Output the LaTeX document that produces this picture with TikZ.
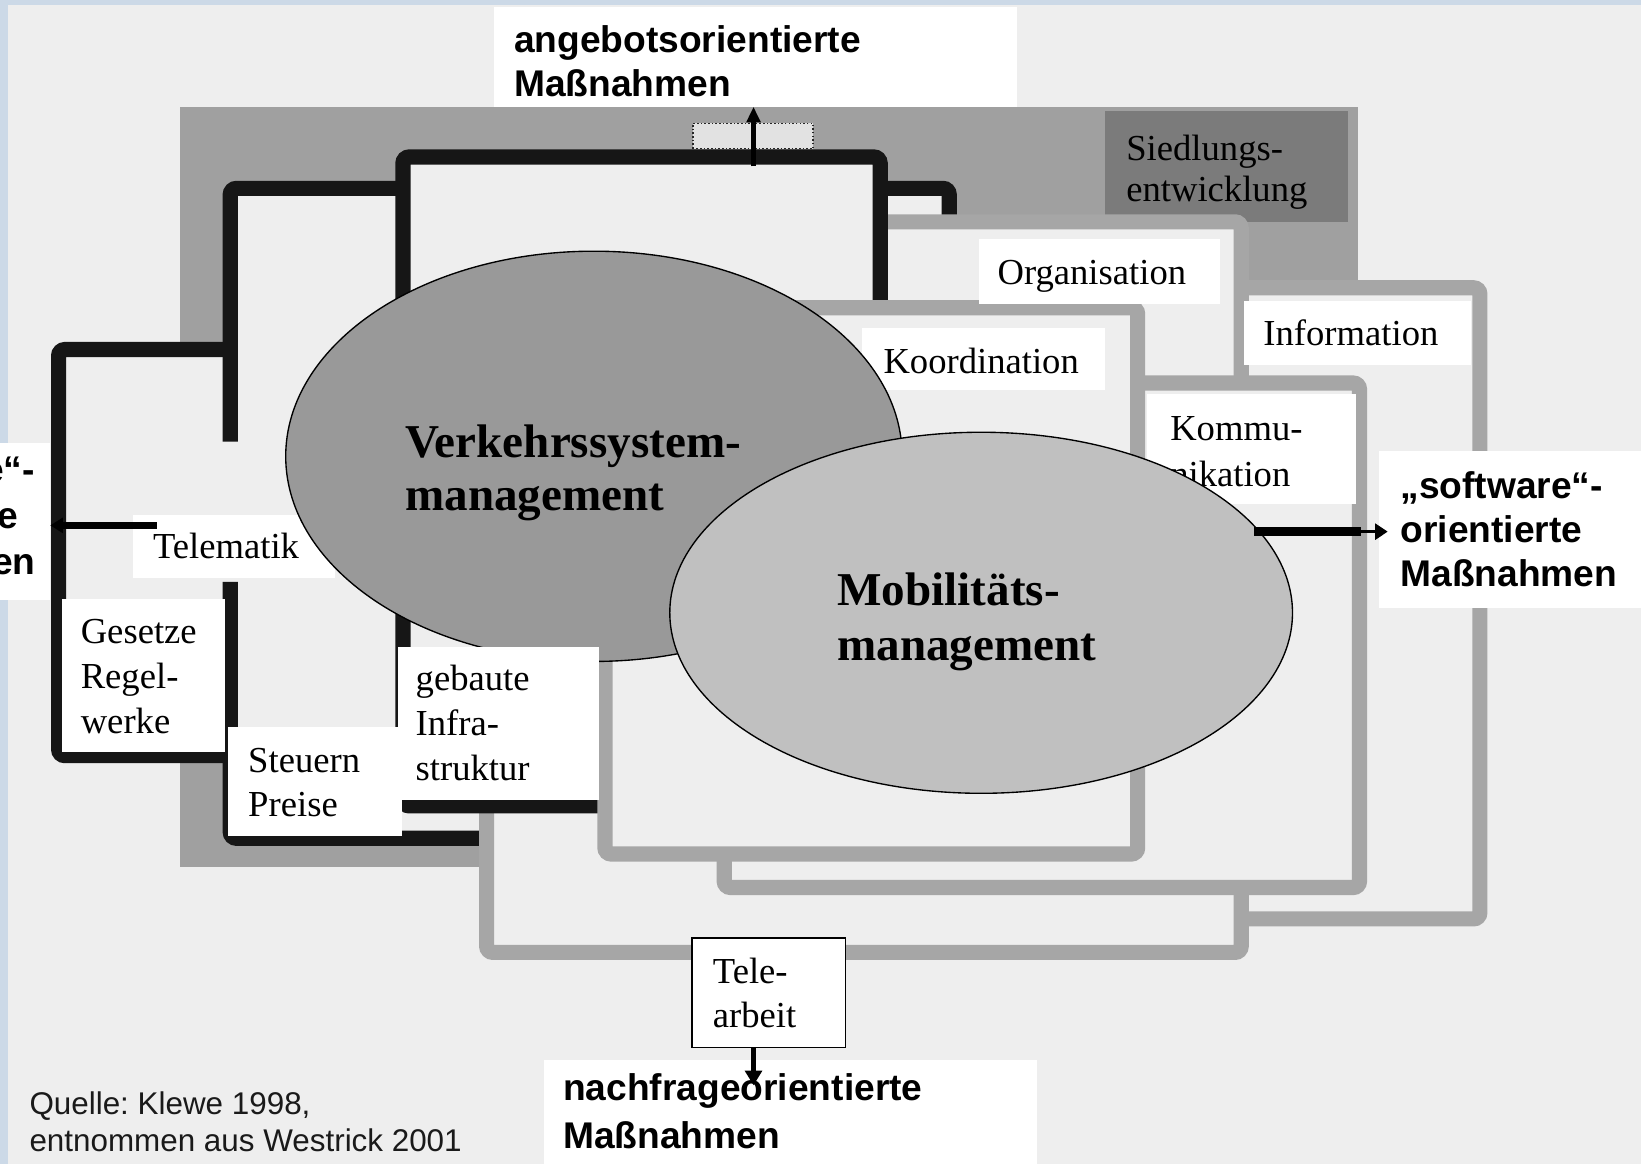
\documentclass[tikz,border=0pt]{standalone}
\usepackage{fontspec}
\setmainfont{Liberation Serif}
\newfontfamily\arialf{Liberation Sans}
\usetikzlibrary{arrows.meta}
\frenchspacing

\definecolor{paper}{HTML}{EEEEEE}
\definecolor{slideblue}{HTML}{CCD9E7}
\definecolor{settle}{HTML}{A0A0A0}
\definecolor{settlebox}{HTML}{7B7B7B}
\definecolor{softline}{HTML}{A6A6A6}
\definecolor{hardline}{HTML}{161616}
\definecolor{vsmfill}{HTML}{999999}
\definecolor{mmfill}{HTML}{C0C0C0}
\definecolor{srctext}{HTML}{1A1A1A}

\tikzset{
  hardframe/.style={draw=hardline, line width=14.5pt, fill=paper, rounded corners=6pt},
  softframe/.style={draw=softline, line width=14.5pt, fill=paper, rounded corners=6pt},
  wbox/.style={fill=white, draw=none, inner sep=0pt, outer sep=0pt, anchor=north west},
  lbl/.style={anchor=base west, inner sep=0pt, font=\fontsize{35}{42}\selectfont},
  bigl/.style={anchor=base west, inner sep=0pt, font=\fontsize{45}{52}\selectfont\bfseries},
  sansl/.style={anchor=base west, inner sep=0pt, font=\arialf\fontsize{35.5}{42}\selectfont\bfseries},
  sansc/.style={anchor=base, inner sep=0pt, font=\arialf\fontsize{35.5}{42}\selectfont\bfseries},
  srcl/.style={anchor=base west, inner sep=0pt, text=srctext, font=\arialf\fontsize{30}{35}\selectfont},
}

\begin{document}
\begin{tikzpicture}[x=1pt,y=-1pt]
\useasboundingbox (0,0) rectangle (1568,1112);
\clip (0,0) rectangle (1568,1112);

% paper and slide border
\fill[paper] (0,0) rectangle (1568,1112);
\fill[slideblue] (0,0) rectangle (1568,5);
\fill[slideblue] (0,0) rectangle (8,1112);

% Siedlungsentwicklung: the large dark field behind everything
\fill[settle] (172,102) rectangle (1298,828);
\node[wbox, fill=settlebox, minimum width=232pt, minimum height=106pt] (siedbox) at (1056,106) {};

% "hardware" frames (black)
\path[hardframe] (56,334) rectangle (320,722);
\fill[paper] (220,180) rectangle (907,801);
\draw[draw=hardline, line width=14.5pt, rounded corners=6pt]
  (220,422) -- (220,180) -- (907,180) -- (907,801) -- (220,801) -- (220,556);

% "software" frames (grey)
\path[softframe] (700,275) rectangle (1414,878);
\path[softframe] (465,212) rectangle (1186,910);
\path[hardframe] (385,150) rectangle (841,770);
\path[softframe] (692,366) rectangle (1299,848);
\path[softframe] (578,294) rectangle (1087,816);

% small dotted field on the top edge
\node[wbox, fill=paper!95!black, draw=black!85, dotted, line width=1.5pt,
      minimum width=115pt, minimum height=24pt] (dotbox) at (662,118) {};

% labels lying under the ellipses
\node[wbox, minimum width=193pt, minimum height=60pt] (telbox) at (127,492) {};
\node[lbl] (tel1) at (146,534) {Telematik};
\node[wbox, minimum width=232pt, minimum height=60pt] (koobox) at (824,313) {};
\node[lbl] (koo1) at (844,357) {Koordination};
\node[wbox, minimum width=200pt, minimum height=106pt] (kombox) at (1096,376) {};
\node[lbl] (kom1) at (1118,421) {Kommu-};
\node[lbl] (kom2) at (1118,465) {nikation};

% the two management ellipses
\draw[fill=vsmfill, draw=black, line width=1.3pt] (567.5,436) ellipse [x radius=294.5, y radius=196];
\node[bigl] (vsm1) at (387,437) {Verkehrssystem-};
\node[bigl] (vsm2) at (387,488) {management};
\draw[fill=mmfill, draw=black, line width=1.3pt] (937.5,585.5) ellipse [x radius=297.5, y radius=172.5];
\node[bigl] (mm1) at (800,579) {Mobilitäts-};
\node[bigl] (mm2) at (800,631) {management};

% remaining frame labels
\node[lbl] (sied1) at (1076,153) {Siedlungs-};
\node[lbl] (sied2) at (1076,193) {entwicklung};
\node[wbox, minimum width=231pt, minimum height=62pt] (orgbox) at (935,228) {};
\node[lbl] (org1) at (953,272) {Organisation};
\node[wbox, minimum width=217pt, minimum height=61pt] (infbox) at (1189,288) {};
\node[lbl] (inf1) at (1207,330) {Information};
\node[wbox, minimum width=156pt, minimum height=147pt] (gesbox) at (59,572) {};
\node[lbl] (ges1) at (77,615) {Gesetze};
\node[lbl] (ges2) at (77,658) {Regel-};
\node[lbl] (ges3) at (77,701) {werke};
\node[wbox, minimum width=166pt, minimum height=104pt] (stebox) at (218,695) {};
\node[lbl] (ste1) at (237,738) {Steuern};
\node[lbl] (ste2) at (237,780) {Preise};
\node[wbox, minimum width=192pt, minimum height=146pt] (infrabox) at (380,618) {};
\node[lbl] (infra1) at (397,660) {gebaute};
\node[lbl] (infra2) at (397,703) {Infra-};
\node[lbl] (infra3) at (397,746) {struktur};
\node[wbox, draw=black, line width=1.5pt, minimum width=147pt, minimum height=105pt] (telebox) at (661,896) {};
\node[lbl] (tele1) at (681,940) {Tele-};
\node[lbl] (tele2) at (681,982) {arbeit};

% orientation labels (sans serif, bold)
\node[wbox, minimum width=500pt, minimum height=95pt] (angbox) at (472,7) {};
\node[sansl] (ang1) at (491,50) {angebotsorientierte};
\node[sansl] (ang2) at (491,92) {Maßnahmen};
\node[wbox, minimum width=250pt, minimum height=150pt] (swbox) at (1318,431) {};
\node[sansl] (sw1) at (1338,476) {„software“-};
\node[sansl] (sw2) at (1338,518) {orientierte};
\node[sansl] (sw3) at (1338,560) {Maßnahmen};
\node[wbox, minimum width=308pt, minimum height=150pt] (hwbox) at (-260,423) {};
\node[sansc] (hw1) at (-69.5,461) {„hardware“-};
\node[sansc] (hw2) at (-69.5,505) {orientierte};
\node[sansc] (hw3) at (-69.5,549) {Maßnahmen};
\node[wbox, minimum width=471pt, minimum height=110pt] (nfbox) at (520,1013) {};
\node[sansl] (nf1) at (538,1052) {nachfrageorientierte};
\node[sansl] (nf2) at (538,1097) {Maßnahmen};

% source
\node[srcl] (src1) at (28,1065) {Quelle: Klewe 1998,};
\node[srcl] (src2) at (28,1100) {entnommen aus Westrick 2001};

% arrows
\coordinate (upstart) at (720,159);
\draw[line width=4pt, -{Triangle[length=15pt,width=13pt]}] (upstart) -- (upstart |- angbox.south);
\coordinate (telstart) at (150,502);
\draw[line width=6pt, -{Triangle[length=12pt,width=14pt]}] (telstart) -- (hwbox.east |- telstart);
\coordinate (swstart) at (1198,508);
\coordinate (swmid) at (1300,508);
\draw[line width=8.5pt] (swstart) -- (swmid);
\draw[line width=3pt, -{Triangle[length=12pt,width=15pt]}] ([xshift=-4pt]swmid) -- ([xshift=8pt]swbox.west |- swstart);
\coordinate (telearr) at (720,1001);
\draw[line width=4.5pt, -{Triangle[length=14pt,width=16pt]}] (telearr) -- (720,1037);
\end{tikzpicture}
\end{document}
